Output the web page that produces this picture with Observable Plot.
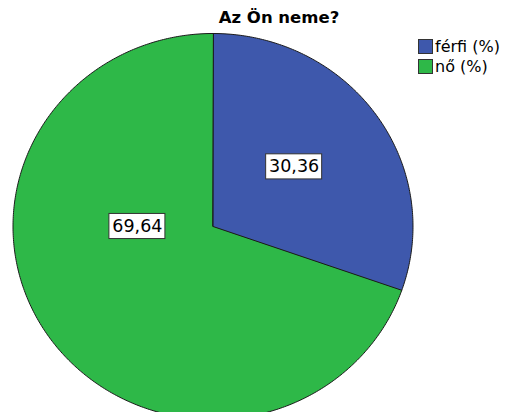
<!DOCTYPE html>
<html>
<head>
<meta charset="utf-8">
<script src="https://cdn.jsdelivr.net/npm/d3@7"></script>
<script src="https://cdn.jsdelivr.net/npm/@observablehq/plot@0.6"></script>
<style>
  body { margin: 0; background: #fff; font-family: "DejaVu Sans", sans-serif; }
  #wrap { position: relative; width: 506px; height: 412px; overflow: hidden; }
  #title { position: absolute; left: 0; width: 558px; top: 8px; text-align: center; font-weight: bold; font-size: 16.5px; color: #000; }
  #legend { position: absolute; left: 418px; top: 36px; font-size: 16px; }
  .item { display: flex; align-items: center; height: 20px; }
  .sw { width: 15px; height: 15px; border: 1px solid #333; box-sizing: border-box; margin-right: 2px; }
</style>
</head>
<body>
<div id="wrap">
  <div id="chart"></div>
  <div id="title">Az Ön neme?</div>
  <div id="legend"></div>
</div>
<script>
const categories = ["férfi (%)", "nő (%)"];
const values = [30.36, 69.64];
const colors = ["#3E58AC", "#2EB848"];

const total = d3.sum(values);
const pts = [];
const labels = [];
let start = 0;
categories.forEach((cat, i) => {
  const a0 = start * 2 * Math.PI / total;
  const a1 = (start + values[i]) * 2 * Math.PI / total;
  pts.push({cat, x: 0, y: 0});
  const n = Math.max(2, Math.ceil((a1 - a0) / 0.01));
  for (let k = 0; k <= n; k++) {
    const a = a0 + (a1 - a0) * k / n;
    pts.push({cat, x: Math.sin(a), y: Math.cos(a)});
  }
  labels.push({cat, value: values[i], mid: (a0 + a1) / 2});
  start += values[i];
});

// label placement (SPSS-like)
const labelPos = [
  {angle: 0.92, r: 0.51},
  {angle: 3 * Math.PI / 2, r: 0.378}
];
labels.forEach((d, i) => {
  const a = labelPos[i].angle ?? d.mid;
  d.lx = labelPos[i].r * Math.sin(a);
  d.ly = labelPos[i].r * Math.cos(a);
  d.text = d.value.toFixed(2).replace(".", ",");
});

const bw = 0.14, bh = 0.065;

const chart = Plot.plot({
  width: 506,
  height: 412,
  margin: 0,
  x: {domain: [-1, 1], range: [12.5, 412.5], axis: null},
  y: {domain: [-1, 1], range: [419, 33], axis: null},
  color: {domain: categories, range: colors},
  style: {fontFamily: "DejaVu Sans", background: "#fff"},
  marks: [
    Plot.line(pts, {x: "x", y: "y", z: "cat", fill: "cat", stroke: "#1a1a1a", strokeWidth: 1, curve: "linear-closed"}),
    Plot.rect(labels, {x1: d => d.lx - bw, x2: d => d.lx + bw, y1: d => d.ly - bh, y2: d => d.ly + bh, fill: "white", stroke: "#333", strokeWidth: 1}),
    Plot.text(labels, {x: "lx", y: "ly", text: "text", fontSize: 17.5, fill: "black"})
  ]
});
document.getElementById("chart").appendChild(chart);

const leg = document.getElementById("legend");
categories.forEach((c, i) => {
  const it = document.createElement("div");
  it.className = "item";
  const sw = document.createElement("div");
  sw.className = "sw";
  sw.style.background = colors[i];
  const t = document.createElement("span");
  t.textContent = c;
  it.appendChild(sw);
  it.appendChild(t);
  leg.appendChild(it);
});
</script>
</body>
</html>
